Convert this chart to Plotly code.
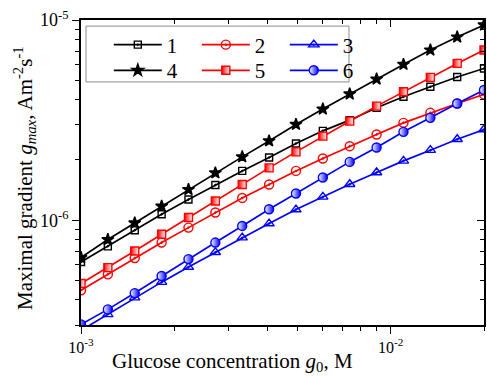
import plotly.graph_objects as go

# Glucose concentration g0, M
x_conc = [0.001, 0.001221, 0.001491, 0.001821, 0.002223, 0.002715, 0.003315, 0.004048,
          0.004943, 0.006036, 0.007371, 0.009001, 0.010991, 0.013421, 0.016388, 0.02]
# Maximal gradient g_max, A m^-2 s^-1
g1 = [6.19e-7, 7.41e-7, 8.91e-7, 1.072e-6, 1.269e-6, 1.501e-6, 1.764e-6, 2.058e-6,
      2.418e-6, 2.796e-6, 3.162e-6, 3.643e-6, 4.135e-6, 4.64e-6, 5.19e-6, 5.73e-6]
g2 = [4.47e-7, 5.37e-7, 6.48e-7, 7.74e-7, 9.19e-7, 1.094e-6, 1.293e-6, 1.508e-6,
      1.764e-6, 2.034e-6, 2.344e-6, 2.682e-6, 3.065e-6, 3.44e-6, 3.83e-6, 4.25e-6]
g3 = [2.82e-7, 3.39e-7, 4.11e-7, 4.91e-7, 5.84e-7, 6.92e-7, 8.19e-7, 9.63e-7,
      1.131e-6, 1.308e-6, 1.514e-6, 1.732e-6, 1.98e-6, 2.239e-6, 2.54e-6, 2.84e-6]
g4 = [6.51e-7, 8.01e-7, 9.69e-7, 1.175e-6, 1.424e-6, 1.724e-6, 2.073e-6, 2.49e-6,
      3.01e-6, 3.59e-6, 4.27e-6, 5.07e-6, 6.0e-6, 7.08e-6, 8.22e-6, 9.44e-6]
g5 = [4.83e-7, 5.8e-7, 7.02e-7, 8.51e-7, 1.032e-6, 1.249e-6, 1.508e-6, 1.826e-6,
      2.195e-6, 2.63e-6, 3.126e-6, 3.715e-6, 4.38e-6, 5.17e-6, 6.07e-6, 7.08e-6]
g6 = [3.02e-7, 3.59e-7, 4.33e-7, 5.27e-7, 6.4e-7, 7.74e-7, 9.37e-7, 1.135e-6,
      1.36e-6, 1.635e-6, 1.957e-6, 2.309e-6, 2.764e-6, 3.247e-6, 3.83e-6, 4.47e-6]

series_names = ["1", "2", "3", "4", "5", "6"]

x_major = [1e-3, 1e-2]
x_major_text = ["10<sup>-3</sup>", "10<sup>-2</sup>"]
x_minor = [2e-3, 3e-3, 4e-3, 5e-3, 6e-3, 7e-3, 8e-3, 9e-3, 2e-2]
y_major = [1e-6, 1e-5]
y_major_text = ["10<sup>-6</sup>", "10<sup>-5</sup>"]
y_minor = [3e-7, 4e-7, 5e-7, 6e-7, 7e-7, 8e-7, 9e-7,
           2e-6, 3e-6, 4e-6, 5e-6, 6e-6, 7e-6, 8e-6, 9e-6]

FONT = "Liberation Serif"
BLACK, RED, BLUE, WHITE = "#000000", "#ff0000", "#0000ff", "#ffffff"

styles = [
    dict(y=g1, color=BLACK, symbol="square-open-dot", size=7, fill=BLACK, grad=None, legend="legend"),
    dict(y=g2, color=RED, symbol="circle-open-dot", size=9, fill=RED, grad=None, legend="legend"),
    dict(y=g3, color=BLUE, symbol="triangle-up-open-dot", size=9, fill=BLUE, grad=None, legend="legend"),
    dict(y=g4, color=BLACK, symbol="star", size=9, fill=BLACK, grad=None, legend="legend2"),
    dict(y=g5, color=RED, symbol="square", size=8, fill=RED, grad=WHITE, legend="legend2"),
    dict(y=g6, color=BLUE, symbol="circle", size=9, fill=WHITE, grad=BLUE, legend="legend2"),
]

fig = go.Figure()
for name, st in zip(series_names, styles):
    marker = dict(symbol=st["symbol"], size=st["size"], color=st["fill"],
                  line=dict(color=st["color"], width=1.4))
    if st["grad"]:
        marker["gradient"] = dict(type="horizontal", color=st["grad"])
    fig.add_trace(go.Scatter(
        x=x_conc, y=st["y"], name=name, mode="lines+markers",
        line=dict(color=st["color"], width=1.7),
        marker=marker, legend=st["legend"], cliponaxis=True,
    ))

# empty helper trace so the mirrored top/right axes are drawn
fig.add_trace(go.Scatter(x=[], y=[], xaxis="x2", yaxis="y2", showlegend=False,
                         hoverinfo="skip"))

xr = [-3, -1.69897]
yr = [-6.5229, -5]

common = dict(showgrid=False, zeroline=False, showline=True, linecolor="black",
              linewidth=1.6, tickcolor="black", tickwidth=1.3)

legend_common = dict(orientation="h", xanchor="left", yanchor="middle",
                     bgcolor="rgba(0,0,0,0)", borderwidth=0, entrywidth=25,
                     entrywidthmode="pixels", itemwidth=48,
                     font=dict(size=21, family=FONT), tracegroupgap=0)

fig.update_layout(
    width=487, height=378,
    margin=dict(l=81, r=3, t=20, b=53),
    paper_bgcolor="white", plot_bgcolor="white",
    font=dict(family=FONT, color="black"),
    xaxis=dict(type="log", range=xr, tickmode="array", tickvals=x_major,
               ticktext=x_major_text, ticks="outside", ticklen=7,
               tickfont=dict(size=16, family=FONT),
               minor=dict(tickmode="array", tickvals=x_minor, ticks="outside",
                          ticklen=4, tickcolor="black", tickwidth=1.3),
               **common),
    yaxis=dict(type="log", range=yr, tickmode="array", tickvals=y_major,
               ticktext=y_major_text, ticks="outside", ticklen=7,
               tickfont=dict(size=18, family=FONT),
               minor=dict(tickmode="array", tickvals=y_minor, ticks="outside",
                          ticklen=4, tickcolor="black", tickwidth=1.3),
               **common),
    xaxis2=dict(type="log", range=xr, overlaying="x", side="top", anchor="y",
                tickmode="array", tickvals=x_major, ticks="inside", ticklen=7,
                showticklabels=False,
                minor=dict(tickmode="array", tickvals=x_minor, ticks="inside",
                           ticklen=4, tickcolor="black", tickwidth=1.3),
                **common),
    yaxis2=dict(type="log", range=yr, overlaying="y", side="right", anchor="x",
                tickmode="array", tickvals=y_major, ticks="inside", ticklen=7,
                showticklabels=False,
                minor=dict(tickmode="array", tickvals=y_minor, ticks="inside",
                           ticklen=4, tickcolor="black", tickwidth=1.3),
                **common),
    legend=dict(x=0.069, y=0.918, **legend_common),
    legend2=dict(x=0.069, y=0.834, **legend_common),
    shapes=[dict(type="rect", xref="paper", yref="paper",
                 x0=0.0124, x1=0.665, y0=0.797, y1=0.980,
                 line=dict(color="#8c8c8c", width=1), fillcolor="rgba(0,0,0,0)",
                 layer="below")],
    annotations=[
        dict(text="Glucose concentration <i>g</i><sub>0</sub>, M",
             xref="paper", yref="paper", x=0.375, y=-0.121,
             xanchor="center", yanchor="middle", showarrow=False,
             font=dict(size=21, family=FONT)),
        dict(text="Maximal gradient <i>g</i><sub><i>max</i></sub>, Am<sup>-2</sup>s<sup>-1</sup>",
             xref="paper", yref="paper", x=-0.139, y=0.482, textangle=-90,
             xanchor="center", yanchor="middle", showarrow=False,
             font=dict(size=21, family=FONT)),
    ],
)

fig.write_html("out.html",
               config={"displayModeBar": False},
               post_script="document.body.style.margin='0';document.body.style.padding='0';")
